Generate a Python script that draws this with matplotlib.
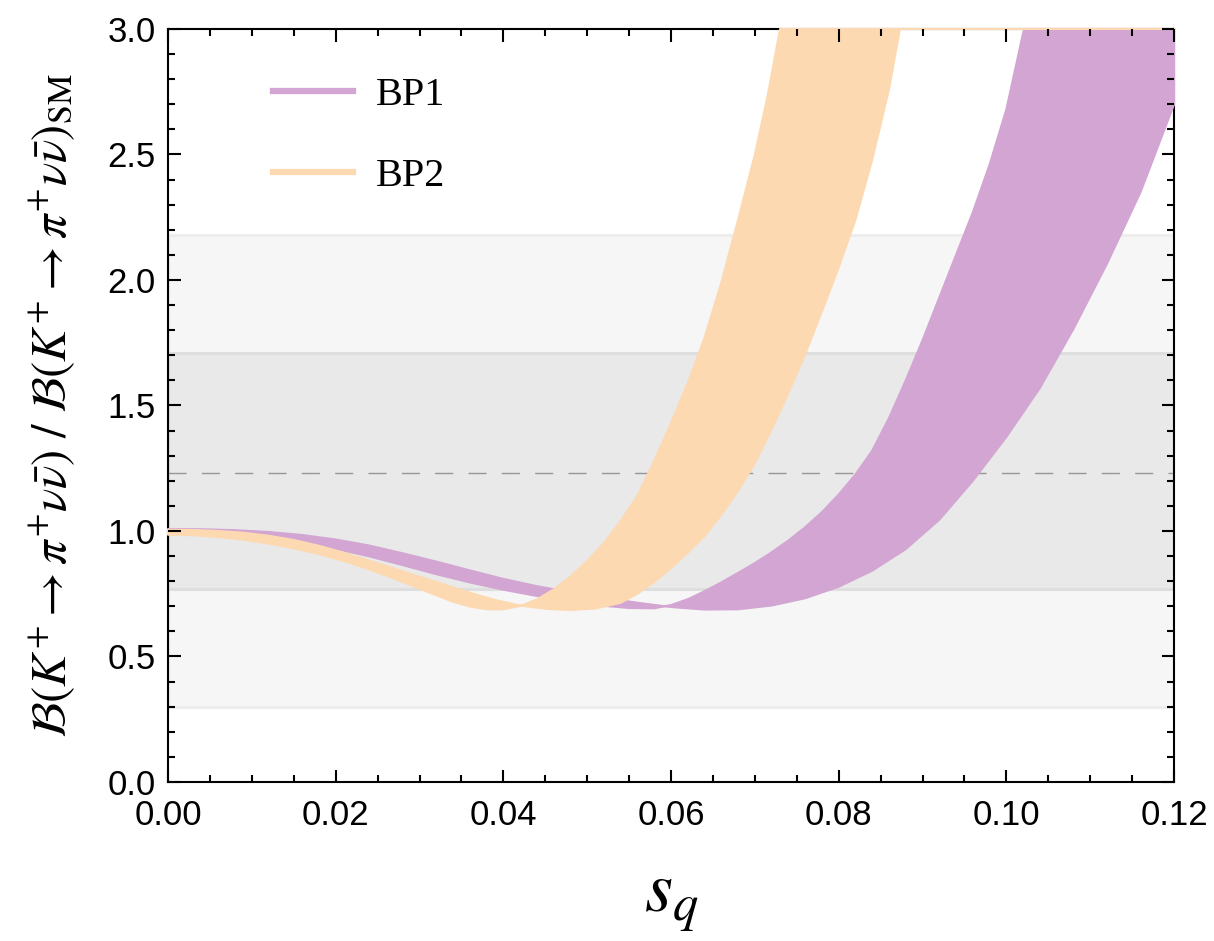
import numpy as np
import matplotlib

matplotlib.use("Agg")
import matplotlib.pyplot as plt
from matplotlib.ticker import MultipleLocator, FormatStrFormatter

# ---------------------------------------------------------------------------
# Data
# ---------------------------------------------------------------------------
# BP1 (purple): edge that turns up first (lower edge in the dip) ...
bp1_a_x = [0.000, 0.004, 0.008, 0.012, 0.016, 0.020, 0.024, 0.028, 0.032,
           0.036, 0.040, 0.044, 0.048, 0.052, 0.055, 0.058, 0.060, 0.062,
           0.064, 0.066, 0.068, 0.070, 0.072, 0.074, 0.076, 0.078, 0.080,
           0.082, 0.084, 0.086, 0.088, 0.090, 0.092, 0.094, 0.096, 0.098,
           0.100, 0.1021, 0.120]
bp1_a_y = [1.000, 0.997, 0.988, 0.974, 0.954, 0.929, 0.899, 0.864, 0.828,
           0.795, 0.766, 0.741, 0.720, 0.702, 0.693, 0.692, 0.705, 0.728,
           0.760, 0.795, 0.833, 0.872, 0.915, 0.962, 1.015, 1.075, 1.145,
           1.225, 1.32, 1.45, 1.60, 1.76, 1.93, 2.10, 2.27, 2.46,
           2.68, 3.00, 3.00]
# ... and edge that turns up later
bp1_b_x = [0.000, 0.004, 0.008, 0.012, 0.016, 0.020, 0.024, 0.028, 0.032,
           0.036, 0.040, 0.044, 0.048, 0.052, 0.056, 0.060, 0.064, 0.068,
           0.072, 0.076, 0.080, 0.084, 0.088, 0.092, 0.096, 0.100, 0.104,
           0.108, 0.112, 0.116, 0.120]
bp1_b_y = [1.008, 1.007, 1.003, 0.996, 0.984, 0.966, 0.942, 0.911, 0.878,
           0.843, 0.809, 0.780, 0.756, 0.734, 0.714, 0.697, 0.687, 0.688,
           0.703, 0.732, 0.778, 0.842, 0.928, 1.045, 1.200, 1.375, 1.570,
           1.805, 2.065, 2.35, 2.70]

# BP2 (peach)
bp2_a_x = [0.000, 0.003, 0.006, 0.009, 0.012, 0.015, 0.018, 0.021, 0.024,
           0.027, 0.030, 0.032, 0.034, 0.036, 0.038, 0.040, 0.042, 0.044,
           0.046, 0.048, 0.050, 0.052, 0.054, 0.056, 0.058, 0.060, 0.062,
           0.064, 0.066, 0.068, 0.070, 0.0715, 0.073, 0.120]
bp2_a_y = [0.985, 0.983, 0.976, 0.965, 0.950, 0.931, 0.908, 0.880, 0.847,
           0.810, 0.770, 0.744, 0.718, 0.699, 0.688, 0.688, 0.701, 0.727,
           0.767, 0.818, 0.880, 0.952, 1.04, 1.14, 1.28, 1.43, 1.59,
           1.77, 1.99, 2.24, 2.50, 2.73, 3.00, 3.00]
bp2_b_x = [0.000, 0.003, 0.006, 0.009, 0.012, 0.015, 0.018, 0.021, 0.024,
           0.027, 0.030, 0.033, 0.036, 0.039, 0.042, 0.045, 0.048, 0.051,
           0.054, 0.056, 0.058, 0.060, 0.062, 0.064, 0.066, 0.068, 0.070,
           0.072, 0.074, 0.076, 0.078, 0.080, 0.082, 0.084, 0.086, 0.0873,
           0.120]
bp2_b_y = [1.005, 1.004, 1.000, 0.993, 0.981, 0.964, 0.941, 0.913, 0.882,
           0.850, 0.818, 0.786, 0.754, 0.725, 0.703, 0.690, 0.685, 0.691,
           0.714, 0.750, 0.797, 0.852, 0.914, 0.980, 1.065, 1.160, 1.270,
           1.405, 1.55, 1.705, 1.875, 2.05, 2.24, 2.48, 2.76, 3.00,
           3.00]

# experimental ranges (grey bands) and central value
outer_band = (0.30, 2.18)
inner_band = (0.77, 1.71)
central = 1.23

PURPLE = "#d2a5d3"
PEACH = "#fdd9b2"


def band_polygon(xa, ya, xb, yb):
    """Closed outline running along edge a, then back along edge b."""
    xs = np.concatenate([xa, xb[::-1]])
    ys = np.concatenate([ya, yb[::-1]])
    return xs, ys


def main() -> None:
    plt.rcParams["mathtext.fontset"] = "stix"
    plt.rcParams["font.family"] = ["Liberation Sans", "DejaVu Sans"]

    fig = plt.figure(figsize=(12.14, 9.41), dpi=100)
    ax = fig.add_axes([0.1384, 0.1690, 0.8287, 0.8002])

    # --- grey bands ------------------------------------------------------
    ax.axhspan(*outer_band, facecolor="#f6f6f6", edgecolor="#ededed",
               linewidth=2.2, zorder=0.6)
    ax.axhspan(*inner_band, facecolor="#e9e9e9", edgecolor="#dedede",
               linewidth=2.2, zorder=0.7)
    ax.axhline(central, color="#969696", linewidth=1.0,
               linestyle=(0, (13, 11)), zorder=0.8)

    # --- benchmark bands -------------------------------------------------
    for (xa, ya, xb, yb, col, lab) in [
        (bp1_a_x, bp1_a_y, bp1_b_x, bp1_b_y, PURPLE, "BP1"),
        (bp2_a_x, bp2_a_y, bp2_b_x, bp2_b_y, PEACH, "BP2"),
    ]:
        xs, ys = band_polygon(np.array(xa), np.array(ya),
                              np.array(xb), np.array(yb))
        ax.fill(xs, ys, facecolor=col, edgecolor=col, linewidth=1.5,
                joinstyle="round", zorder=2.2, clip_on=False)
        ax.plot([], [], color=col, linewidth=4.5, label=lab)

    for sp in ax.spines.values():
        sp.set_linewidth(1.5)
        sp.set_zorder(2.0)
    ax.set_axisbelow(False)

    ax.set_xlim(0.0, 0.12)
    ax.set_ylim(0.0, 3.0)
    ax.xaxis.set_major_locator(MultipleLocator(0.02))
    ax.xaxis.set_minor_locator(MultipleLocator(0.005))
    ax.yaxis.set_major_locator(MultipleLocator(0.5))
    ax.yaxis.set_minor_locator(MultipleLocator(0.1))
    ax.xaxis.set_major_formatter(FormatStrFormatter("%.2f"))
    ax.yaxis.set_major_formatter(FormatStrFormatter("%.1f"))
    ax.tick_params(which="both", direction="in", top=True, right=True,
                   width=1.5, labelsize=25)
    ax.tick_params(which="major", length=9)
    ax.tick_params(which="minor", length=5)
    ax.tick_params(axis="x", which="major", pad=12)
    ax.tick_params(axis="y", which="major", pad=9)

    ax.set_xlabel(r"$s_q$", fontsize=52, labelpad=26)
    ax.set_ylabel(
        r"$\mathcal{B}(K^{+}\to\pi^{+}\nu\bar{\nu})\ /\ "
        r"\mathcal{B}(K^{+}\to\pi^{+}\nu\bar{\nu})_{\mathrm{SM}}$",
        fontsize=35, labelpad=22)

    ax.legend(loc="upper left", bbox_to_anchor=(0.068, 0.985), frameon=False,
              prop={"family": "Liberation Serif", "size": 29},
              handlelength=2.0, handletextpad=0.55, labelspacing=1.1)

    fig.savefig("out.png", dpi=100)
    plt.close(fig)


if __name__ == "__main__":
    main()
